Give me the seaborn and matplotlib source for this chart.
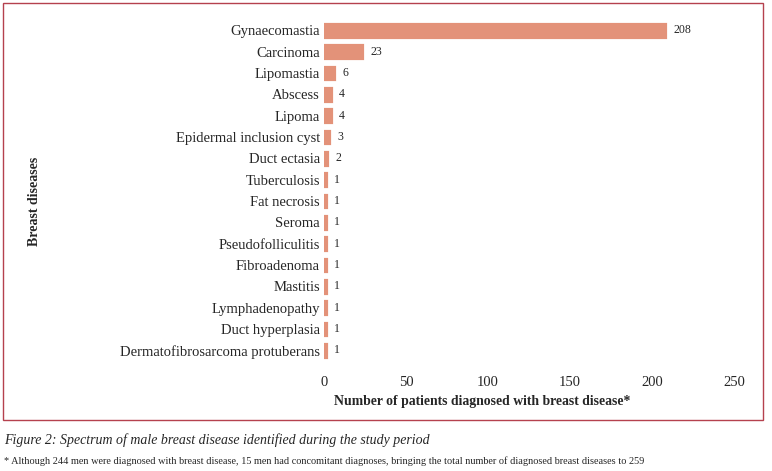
import matplotlib
matplotlib.use("Agg")
import matplotlib.pyplot as plt
import seaborn as sns
import pandas as pd
from matplotlib.patches import Rectangle

diseases = ["Gynaecomastia", "Carcinoma", "Lipomastia", "Abscess", "Lipoma",
            "Epidermal inclusion cyst", "Duct ectasia", "Tuberculosis",
            "Fat necrosis", "Seroma", "Pseudofolliculitis", "Fibroadenoma",
            "Mastitis", "Lymphadenopathy", "Duct hyperplasia",
            "Dermatofibrosarcoma protuberans"]
counts = [208, 23, 6, 4, 4, 3, 2, 1, 1, 1, 1, 1, 1, 1, 1, 1]
xticks = [0, 50, 100, 150, 200, 250]

df = pd.DataFrame({"disease": diseases, "count": counts})

sns.set_style("white")
plt.rcParams["font.family"] = ["Liberation Serif", "DejaVu Serif"]

fig = plt.figure(figsize=(7.72, 4.71), dpi=100)
ax = fig.add_axes([0.4197, 0.2335, 0.531, 0.7245])

bar_col = "#e39279"
sns.barplot(data=df, x="count", y="disease", color=bar_col,
            saturation=1, width=0.6, edgecolor=bar_col, linewidth=2.3, ax=ax)

for i, v in enumerate(counts):
    ax.annotate(str(v), (v, i), xytext=(6, 0), textcoords="offset points",
                va="center", ha="left", fontsize=8.5)

ax.set_xlim(0, 250)
ax.set_xticks(xticks)
ax.set_xticklabels([str(t) for t in xticks], fontsize=10.5)
ax.tick_params(axis="y", labelsize=10.5, length=0, pad=3)
ax.tick_params(axis="x", length=0, pad=11)
for s in ax.spines.values():
    s.set_visible(False)

ax.set_xlabel("")
ax.set_ylabel("")
fig.text(482 / 772, 1 - 402 / 471,
         "Number of patients diagnosed with breast disease*",
         fontsize=9.9, fontweight="bold", ha="center", va="center")
fig.text(35 / 772, 1 - 201 / 471, "Breast diseases", rotation=90, fontsize=10,
         fontweight="bold", ha="center", va="center")

# border box
fig.patches.append(Rectangle((3 / 772, 1 - 420 / 471), 760 / 772, 417 / 471,
                             transform=fig.transFigure, fill=False,
                             edgecolor="#b5414e", linewidth=1))

fig.text(4 / 772, 1 - 440 / 471,
         "Figure 2: Spectrum of male breast disease identified during the study period",
         fontsize=10, style="italic", va="center", ha="left")
fig.text(4 / 772, 1 - 461 / 471,
         "* Although 244 men were diagnosed with breast disease, 15 men had concomitant diagnoses, bringing the total number of diagnosed breast diseases to 259",
         fontsize=7.4, va="center", ha="left")

fig.savefig("out.png", dpi=100)
